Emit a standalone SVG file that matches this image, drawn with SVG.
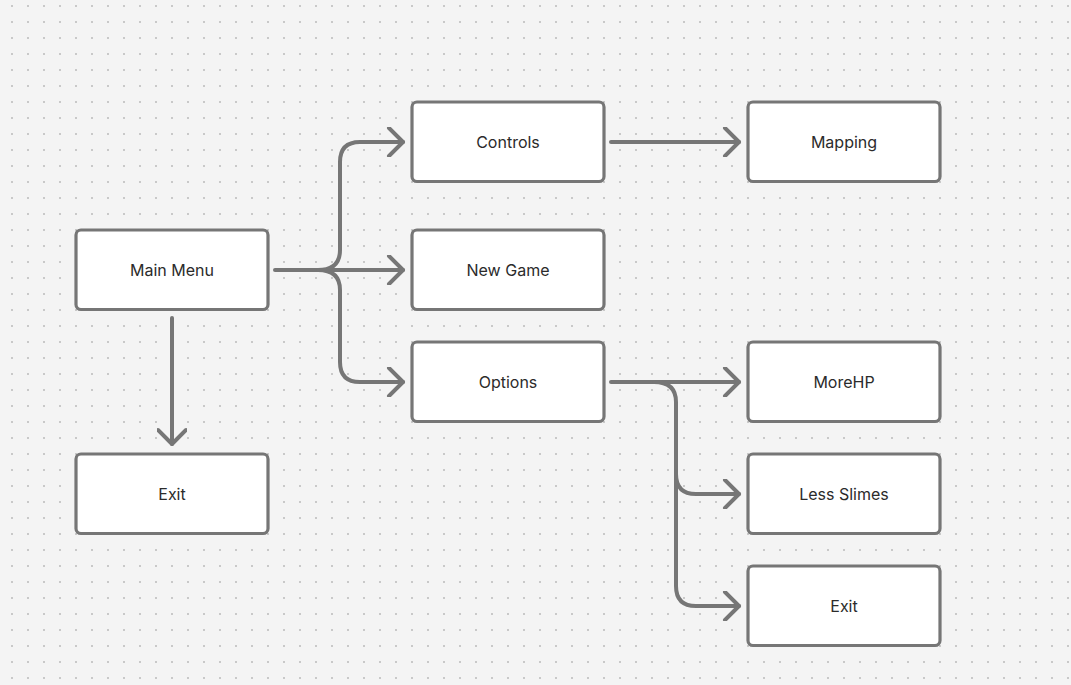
<svg xmlns="http://www.w3.org/2000/svg" width="1071" height="685" viewBox="0 0 1071 685">
  <defs>
    <pattern id="dots" x="11" y="5" width="16" height="16" patternUnits="userSpaceOnUse">
      <rect x="0" y="0" width="2" height="2" fill="#c9c9c9"/>
    </pattern>
    <marker id="chev" viewBox="0 0 20 30" refX="17" refY="15" markerWidth="20" markerHeight="30" markerUnits="userSpaceOnUse" orient="auto">
      <path d="M3 1 L17 15 L3 29" fill="none" stroke="#767676" stroke-width="4" stroke-linecap="round" stroke-linejoin="round"/>
    </marker>
  </defs>
  <style>
    .box { fill: #ffffff; stroke: #767676; stroke-width: 3.2; }
    .lbl { font-family: Inter, "Liberation Sans", sans-serif; font-size: 16px; fill: #2b2b2b; text-anchor: middle; dominant-baseline: central; }
    .edge { fill: none; stroke: #767676; stroke-width: 4; stroke-linecap: round; stroke-linejoin: round; }
  </style>
  <rect width="1071" height="685" fill="#f4f4f4"/>
  <rect width="1071" height="685" fill="url(#dots)"/>

  <g id="connectors">
    <!-- Main Menu fan-out -->
    <path class="edge" d="M275 270 L403 270" marker-end="url(#chev)"/>
    <path class="edge" d="M318 270 Q340 270 340 250 L340 162 Q340 142 360 142 L403 142" marker-end="url(#chev)"/>
    <path class="edge" d="M318 270 Q340 270 340 290 L340 362 Q340 382 360 382 L403 382" marker-end="url(#chev)"/>
    <!-- Main Menu to Exit -->
    <path class="edge" d="M172 318 L172 444" marker-end="url(#chev)"/>
    <!-- Controls to Mapping -->
    <path class="edge" d="M611 142 L739 142" marker-end="url(#chev)"/>
    <!-- Options fan-out -->
    <path class="edge" d="M611 382 L739 382" marker-end="url(#chev)"/>
    <path class="edge" d="M654 382 Q676 382 676 402 L676 474 Q676 494 696 494 L739 494" marker-end="url(#chev)"/>
    <path class="edge" d="M676 470 L676 586 Q676 606 696 606 L739 606" marker-end="url(#chev)"/>
  </g>

  <g id="main-menu">
    <rect class="box" x="76" y="230" width="192" height="79.5" rx="5"/>
    <text class="lbl" x="172" y="270">Main Menu</text>
  </g>
  <g id="exit-main">
    <rect class="box" x="76" y="454" width="192" height="79.5" rx="5"/>
    <text class="lbl" x="172" y="494">Exit</text>
  </g>
  <g id="controls">
    <rect class="box" x="412" y="102" width="192" height="79.5" rx="5"/>
    <text class="lbl" x="508" y="142">Controls</text>
  </g>
  <g id="new-game">
    <rect class="box" x="412" y="230" width="192" height="79.5" rx="5"/>
    <text class="lbl" x="508" y="270">New Game</text>
  </g>
  <g id="options">
    <rect class="box" x="412" y="342" width="192" height="79.5" rx="5"/>
    <text class="lbl" x="508" y="382">Options</text>
  </g>
  <g id="mapping">
    <rect class="box" x="748" y="102" width="192" height="79.5" rx="5"/>
    <text class="lbl" x="844" y="142">Mapping</text>
  </g>
  <g id="more-hp">
    <rect class="box" x="748" y="342" width="192" height="79.5" rx="5"/>
    <text class="lbl" x="844" y="382">MoreHP</text>
  </g>
  <g id="less-slimes">
    <rect class="box" x="748" y="454" width="192" height="79.5" rx="5"/>
    <text class="lbl" x="844" y="494">Less Slimes</text>
  </g>
  <g id="exit-options">
    <rect class="box" x="748" y="566" width="192" height="79.5" rx="5"/>
    <text class="lbl" x="844" y="606">Exit</text>
  </g>
</svg>
